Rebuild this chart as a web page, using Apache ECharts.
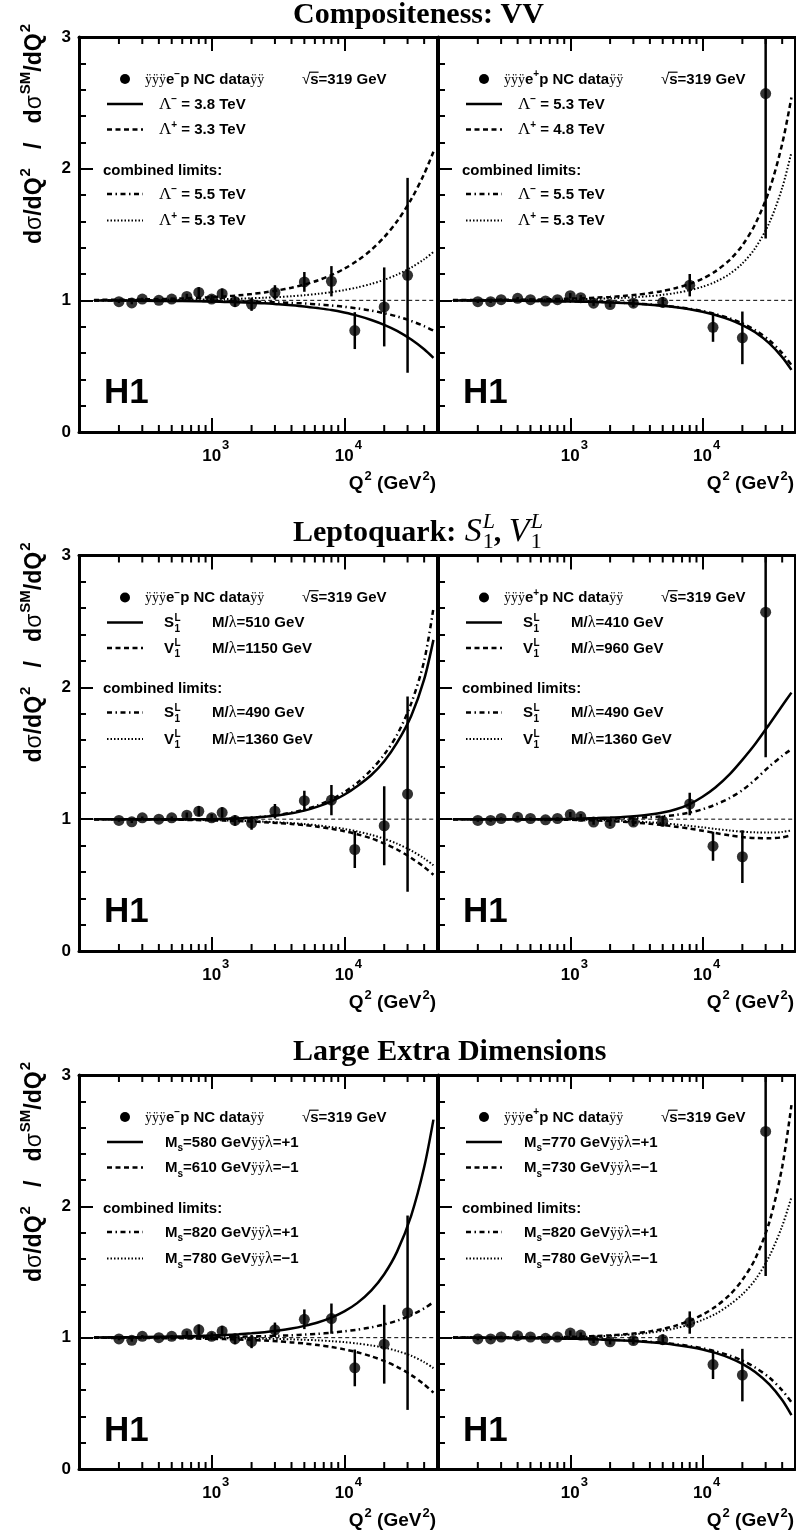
<!DOCTYPE html>
<html><head><meta charset="utf-8">
<script src="https://cdn.jsdelivr.net/npm/echarts@6/dist/echarts.min.js"></script>
<style>html,body{margin:0;padding:0;background:#fff}#c{width:796px;height:1536px}</style>
</head><body><div id="c"></div>
<script>
// ---------------- data ----------------
const Q2_DATA = [200,250,300,400,500,650,800,1000,1200,1500,2000,3000,5000,8000,12000,20000,30000];
const EM_RATIO = [0.99,0.98,1.01,1.00,1.01,1.03,1.06,1.01,1.05,0.99,0.97,1.06,1.14,1.145,0.77,0.95,1.19];
const EM_ERR   = [0.01,0.01,0.01,0.01,0.01,0.02,0.04,0.03,0.04,0.04,0.05,0.055,0.075,0.115,0.14,0.30,0.74];
const EP_RATIO = [0.99,0.99,1.005,1.015,1.005,0.995,1.005,1.035,1.02,0.978,0.968,0.978,0.985,1.115,0.795,0.715,2.57];
const EP_ERR   = [0.01,0.01,0.01,0.01,0.01,0.01,0.01,0.02,0.02,0.02,0.02,0.03,0.04,0.085,0.11,0.20,1.10];

const Q2_CURVE = [130,300,600,1000,1250,1600,2000,2500,3200,4000,5000,6300,8000,10000,12500,16000,20000,25000,32000,40000,47000];
// Compositeness VV
const VV_EM_SOLID   = [0.999,0.997,0.994,0.991,0.988,0.985,0.981,0.977,0.970,0.963,0.954,0.941,0.926,0.907,0.884,0.851,0.814,0.768,0.702,0.628,0.563];
const VV_EM_DASH    = [1.003,1.007,1.014,1.024,1.030,1.038,1.048,1.060,1.077,1.096,1.120,1.151,1.192,1.240,1.300,1.384,1.480,1.600,1.768,1.960,2.128];
const VV_EM_DASHDOT = [0.999,0.999,0.997,0.995,0.994,0.992,0.990,0.988,0.984,0.980,0.976,0.969,0.961,0.951,0.939,0.922,0.902,0.878,0.843,0.804,0.770];
const VV_EM_DOT     = [1.001,1.002,1.005,1.008,1.010,1.012,1.016,1.020,1.025,1.031,1.039,1.049,1.062,1.078,1.098,1.125,1.156,1.195,1.250,1.312,1.367];
const VV_EP_SOLID   = [0.999,0.998,0.995,0.992,0.990,0.987,0.984,0.980,0.974,0.967,0.958,0.947,0.932,0.913,0.889,0.854,0.812,0.757,0.673,0.569,0.472];
const VV_EP_DASH    = [1.002,1.004,1.007,1.013,1.016,1.021,1.026,1.033,1.043,1.055,1.071,1.094,1.125,1.165,1.220,1.306,1.418,1.578,1.838,2.188,2.541];
const VV_EP_DASHDOT = [0.999,0.998,0.995,0.992,0.991,0.988,0.985,0.981,0.975,0.969,0.961,0.950,0.936,0.919,0.896,0.864,0.825,0.773,0.696,0.599,0.508];
const VV_EP_DOT     = [1.001,1.002,1.004,1.007,1.009,1.012,1.015,1.019,1.025,1.032,1.042,1.056,1.077,1.103,1.140,1.200,1.280,1.396,1.589,1.854,2.125];
// Leptoquark
const LQ_EM_SOLID   = [1.0,1.0,1.0,1.0,1.002,1.005,1.010,1.018,1.030,1.045,1.065,1.095,1.135,1.185,1.250,1.335,1.440,1.580,1.785,2.060,2.360];
const LQ_EM_DASH    = [1.0,0.998,0.995,0.991,0.989,0.986,0.982,0.977,0.971,0.964,0.955,0.943,0.927,0.909,0.886,0.854,0.815,0.770,0.705,0.637,0.578];
const LQ_EM_DASHDOT = [1.0,1.0,1.0,1.0,1.002,1.006,1.011,1.020,1.033,1.050,1.072,1.105,1.150,1.205,1.275,1.375,1.490,1.640,1.880,2.200,2.600];
const LQ_EM_DOT     = [1.0,0.998,0.996,0.993,0.991,0.988,0.985,0.981,0.976,0.970,0.963,0.953,0.940,0.926,0.907,0.881,0.851,0.814,0.762,0.702,0.650];
const LQ_EP_SOLID   = [1.0,1.0,1.001,1.003,1.005,1.008,1.012,1.017,1.025,1.035,1.050,1.075,1.115,1.170,1.240,1.340,1.450,1.570,1.720,1.860,1.960];
const LQ_EP_DASH    = [1.0,0.999,0.997,0.995,0.993,0.990,0.986,0.980,0.973,0.965,0.955,0.943,0.928,0.912,0.895,0.877,0.864,0.857,0.855,0.862,0.878];
const LQ_EP_DASHDOT = [1.0,1.0,1.0,1.0,1.001,1.002,1.004,1.006,1.010,1.015,1.022,1.032,1.050,1.075,1.110,1.160,1.220,1.300,1.400,1.480,1.530];
const LQ_EP_DOT     = [1.0,0.999,0.998,0.997,0.996,0.994,0.991,0.987,0.982,0.976,0.969,0.960,0.949,0.938,0.926,0.914,0.905,0.900,0.898,0.903,0.915];
// Large extra dimensions
const LED_EM_SOLID   = [1.002,1.005,1.010,1.016,1.020,1.026,1.033,1.042,1.055,1.070,1.090,1.116,1.153,1.200,1.263,1.360,1.483,1.655,1.932,2.297,2.660];
const LED_EM_DASH    = [0.999,0.997,0.995,0.991,0.989,0.986,0.982,0.978,0.972,0.964,0.956,0.944,0.929,0.911,0.889,0.858,0.822,0.778,0.715,0.644,0.582];
const LED_EM_DASHDOT = [1.001,1.001,1.003,1.005,1.006,1.007,1.009,1.011,1.015,1.018,1.023,1.029,1.038,1.048,1.061,1.079,1.101,1.129,1.172,1.223,1.271];
const LED_EM_DOT     = [1.0,0.999,0.998,0.997,0.996,0.995,0.994,0.992,0.990,0.987,0.984,0.980,0.973,0.966,0.956,0.941,0.924,0.899,0.862,0.814,0.768];
const LED_EP_SOLID   = [0.999,0.998,0.995,0.992,0.990,0.987,0.983,0.979,0.973,0.966,0.957,0.945,0.929,0.910,0.884,0.846,0.800,0.738,0.644,0.525,0.410];
const LED_EP_DASH    = [1.001,1.002,1.004,1.006,1.009,1.013,1.018,1.025,1.035,1.048,1.066,1.092,1.130,1.175,1.235,1.325,1.440,1.600,1.880,2.300,2.770];
const LED_EP_DASHDOT = [0.999,0.998,0.996,0.992,0.991,0.988,0.985,0.981,0.975,0.969,0.961,0.950,0.936,0.919,0.896,0.864,0.825,0.773,0.696,0.599,0.508];
const LED_EP_DOT     = [1.001,1.002,1.003,1.005,1.007,1.010,1.014,1.020,1.028,1.038,1.052,1.072,1.100,1.135,1.180,1.250,1.330,1.440,1.620,1.850,2.070];

// axes / ticks
const X_MIN = 100, X_MAX = 50000;
const X_MINOR_TICKS = [200,300,400,500,600,700,800,900,2000,3000,4000,5000,6000,7000,8000,9000,20000,30000,40000];
const X_LABEL_TICKS = [1000, 10000];
const X_LABEL_EXP = ['3', '4'];
const REF_LINE_X = [128, 50000];

// legend texts
const TITLES = ['Compositeness: VV', 'Leptoquark: ', 'Large Extra Dimensions'];
const VV_EM_LABELS = [['−','3.8'],['+','3.3'],['−','5.5'],['+','5.3']];
const VV_EP_LABELS = [['−','5.3'],['+','4.8'],['−','5.5'],['+','5.3']];
const LQ_EM_LABELS = [['S','510'],['V','1150'],['S','490'],['V','1360']];
const LQ_EP_LABELS = [['S','410'],['V','960'],['S','490'],['V','1360']];
const LED_EM_LABELS = [['580','+1'],['610','−1'],['820','+1'],['780','−1']];
const LED_EP_LABELS = [['770','+1'],['730','−1'],['820','+1'],['780','−1']];

// ---------------- layout & styles ----------------
const SANS = 'Liberation Sans, Arial, Helvetica, sans-serif';
const SERIF = 'Liberation Serif, Times New Roman, serif';
const ROWS = [{top:37,h:395},{top:555.5,h:395.5},{top:1075,h:394}];
const COLS = [{left:79,w:358},{left:438,w:357}];
const LS = {
  solid:{type:'solid', width:2.5},
  dash:{type:[5,3.5], width:2.5},
  dashdot:{type:[5,3.5,1.5,3.5], width:2.5},
  dot:{type:[1.5,2], width:2}
};

const PANELS = [
  {row:0,col:0,kind:'VV',beam:'−',ratio:EM_RATIO,err:EM_ERR,curves:{solid:VV_EM_SOLID,dash:VV_EM_DASH,dashdot:VV_EM_DASHDOT,dot:VV_EM_DOT},labels:VV_EM_LABELS},
  {row:0,col:1,kind:'VV',beam:'+',ratio:EP_RATIO,err:EP_ERR,curves:{solid:VV_EP_SOLID,dash:VV_EP_DASH,dashdot:VV_EP_DASHDOT,dot:VV_EP_DOT},labels:VV_EP_LABELS},
  {row:1,col:0,kind:'LQ',beam:'−',ratio:EM_RATIO,err:EM_ERR,curves:{solid:LQ_EM_SOLID,dash:LQ_EM_DASH,dashdot:LQ_EM_DASHDOT,dot:LQ_EM_DOT},labels:LQ_EM_LABELS},
  {row:1,col:1,kind:'LQ',beam:'+',ratio:EP_RATIO,err:EP_ERR,curves:{solid:LQ_EP_SOLID,dash:LQ_EP_DASH,dashdot:LQ_EP_DASHDOT,dot:LQ_EP_DOT},labels:LQ_EP_LABELS},
  {row:2,col:0,kind:'LED',beam:'−',ratio:EM_RATIO,err:EM_ERR,curves:{solid:LED_EM_SOLID,dash:LED_EM_DASH,dashdot:LED_EM_DASHDOT,dot:LED_EM_DOT},labels:LED_EM_LABELS},
  {row:2,col:1,kind:'LED',beam:'+',ratio:EP_RATIO,err:EP_ERR,curves:{solid:LED_EP_SOLID,dash:LED_EP_DASH,dashdot:LED_EP_DASHDOT,dot:LED_EP_DOT},labels:LED_EP_LABELS}
];

// ---------------- text helper ----------------
const mctx = document.createElement('canvas').getContext('2d');
function tw(p){ mctx.font = (p.i?'italic ':'') + (p.w||'bold') + ' ' + p.s + 'px ' + (p.f||SANS); return mctx.measureText(p.t).width; }
function runs(parts, x, y, align){
  let total = 0; const ws = [];
  parts.forEach(p => { if(!p.s) p.s = 15; const w = tw(p); ws.push(w); total += (p.dx||0) + (p.stay?0:w); });
  let cx = align==='right' ? x-total : align==='center' ? x-total/2 : x;
  const out = [];
  parts.forEach((p,k) => {
    cx += (p.dx||0);
    const by = y - (p.dy||0);
    out.push({type:'text', silent:true, x:cx, y:by - 0.32*p.s, z:50,
      style:{text:p.t, fontSize:p.s, fontWeight:p.w||'bold', fontFamily:p.f||SANS, fontStyle:p.i?'italic':'normal',
             fill:'#000', align:'left', textAlign:'left', verticalAlign:'middle', textVerticalAlign:'middle'}});
    if (p.over) out.push({type:'line', silent:true, z:50, shape:{x1:cx-1,y1:by-0.82*p.s,x2:cx+ws[k],y2:by-0.82*p.s}, style:{stroke:'#000',lineWidth:1.2}});
    if (!p.stay) cx += ws[k];
  });
  return out;
}

// ---------------- build option ----------------
const grids = [], xAxes = [], yAxes = [], series = [];
PANELS.forEach((p, i) => {
  const r = ROWS[p.row], c = COLS[p.col];
  grids.push({left:c.left, top:r.top, width:c.w, height:r.h, show:true, borderColor:'#000', borderWidth:2, backgroundColor:'transparent'});
  const xa = (pos) => ({gridIndex:i, type:'log', logBase:10, min:X_MIN, max:X_MAX, position:pos,
    axisLine:{show:true, onZero:false, lineStyle:{color:'#000', width:3}},
    axisTick:{show:true, inside:true, length:14, lineStyle:{color:'#000', width:2}},
    axisLabel:{show:false}, splitLine:{show:false}, minorTick:{show:false}, minorSplitLine:{show:false}});
  xAxes.push(xa('bottom')); xAxes.push(xa('top'));
  yAxes.push({gridIndex:i, type:'value', min:0, max:3, interval:1, position:'left',
    axisLine:{show:true, onZero:false, lineStyle:{color:'#000', width:3}},
    axisTick:{show:true, inside:true, length:14, lineStyle:{color:'#000', width:2}},
    minorTick:{show:true, splitNumber:5, length:7, lineStyle:{color:'#000', width:2}},
    axisLabel:{show:p.col===0, color:'#000', fontSize:17, fontWeight:'bold', fontFamily:SANS, margin:8},
    splitLine:{show:false}, minorSplitLine:{show:false}});
  const xi = 2*i, yi = i;
  series.push({type:'custom', xAxisIndex:xi, yAxisIndex:yi, silent:true, clip:false, z:5,
    data: X_MINOR_TICKS.map(v => [v, 0]),
    renderItem: (params, api) => {
      const b = api.coord([api.value(0), 0]); const t = api.coord([api.value(0), 3]);
      return {type:'group', children:[
        {type:'line', shape:{x1:b[0],y1:b[1],x2:b[0],y2:b[1]-7}, style:{stroke:'#000', lineWidth:2}},
        {type:'line', shape:{x1:t[0],y1:t[1],x2:t[0],y2:t[1]+7}, style:{stroke:'#000', lineWidth:2}}]};
    }});
  series.push({type:'line', xAxisIndex:xi, yAxisIndex:yi, silent:true, symbol:'none', z:3,
    data: REF_LINE_X.map(x => [x, 1]), lineStyle:{color:'#000', width:1, type:[4,3]}});
  ['solid','dash','dashdot','dot'].forEach(k => {
    series.push({type:'line', xAxisIndex:xi, yAxisIndex:yi, silent:true, symbol:'none', z:4,
      smooth:0.3, clip:true,
      data: Q2_CURVE.map((q, j) => [q, p.curves[k][j]]),
      lineStyle:{color:'#000', width:LS[k].width, type:LS[k].type}});
  });
  series.push({type:'custom', xAxisIndex:xi, yAxisIndex:yi, silent:true, clip:true, z:6,
    data: Q2_DATA.map((q, j) => [q, p.ratio[j], p.err[j]]),
    renderItem: (params, api) => {
      const x = api.value(0), y = api.value(1), e = api.value(2);
      const a = api.coord([x, y-e]), b = api.coord([x, y+e]);
      return {type:'line', shape:{x1:a[0],y1:a[1],x2:b[0],y2:b[1]}, style:{stroke:'#000', lineWidth:2.5}};
    }});
  series.push({type:'scatter', xAxisIndex:xi, yAxisIndex:yi, silent:true, symbol:'circle', symbolSize:11, z:7,
    itemStyle:{color:'#000'}, data: Q2_DATA.map((q, j) => [q, p.ratio[j]])});
});

const chart = echarts.init(document.getElementById('c'), null, {renderer:'canvas'});
chart.setOption({animation:false, backgroundColor:'#fff', grid:grids, xAxis:xAxes, yAxis:yAxes, series:series});

// ---------------- graphics (text) ----------------
const G = [];
ROWS.forEach((r, ri) => {
  const base = ri === 0 ? 25 : r.top - 13;
  if (ri === 1) {
    G.push(...runs([
      {t:'Leptoquark: ', f:SERIF, s:30},
      {t:'S', f:SERIF, s:34, w:'normal', i:true, dx:1},
      {t:'L', f:SERIF, s:22, w:'normal', i:true, dy:13, stay:true, dx:1},
      {t:'1', f:SERIF, s:22, w:'normal', dy:-7},
      {t:', ', f:SERIF, s:30},
      {t:'V', f:SERIF, s:34, w:'normal', i:true},
      {t:'L', f:SERIF, s:22, w:'normal', i:true, dy:13, stay:true, dx:1},
      {t:'1', f:SERIF, s:22, w:'normal', dy:-7}
    ], 293, base, 'left'));
  } else {
    G.push(...runs([{t:TITLES[ri], f:SERIF, s:30}], 293, base, 'left'));
  }
});

PANELS.forEach((p, i) => {
  const r = ROWS[p.row], c = COLS[p.col];
  const L = c.left, T = r.top, B = r.top + r.h, R = c.left + c.w;
  G.push(...runs([{t:'H1', s:35}], L+25, T+368, 'left'));
  X_LABEL_TICKS.forEach((v, k) => {
    const px = chart.convertToPixel({xAxisIndex:2*i}, v);
    const w10 = tw({t:'10', s:17});
    G.push(...runs([{t:'10', s:17}, {t:X_LABEL_EXP[k], s:13, dy:12, dx:1}], px - w10/2, B+30, 'left'));
  });
  G.push(...runs([{t:'Q', s:19}, {t:'2', s:13, dy:9, dx:1}, {t:' (GeV', s:19}, {t:'2', s:13, dy:9, dx:1}, {t:')', s:19}], R-1, B+58, 'right'));
  if (p.col === 0) {
    G.push({type:'group', x:42, y:T+97, rotation:Math.PI/2, children: runs([
      {t:'d', s:23}, {t:'σ', s:23, w:'normal'}, {t:'/dQ', s:23}, {t:'2', s:15, dy:11, dx:1},
      {t:'   /   ', s:23}, {t:'d', s:23}, {t:'σ', s:23, w:'normal'}, {t:'SM', s:15, dy:11, dx:1}, {t:'/dQ', s:23}, {t:'2', s:15, dy:11, dx:1}
    ], 0, 0, 'center')});
  }
  const rowsY = [42, 67, 92.5, 133, 157, 183.5].map(v => T + v);
  const bl = (yc) => yc + 5.5;
  G.push({type:'circle', silent:true, z:50, shape:{cx:L+46, cy:rowsY[0], r:5}, style:{fill:'#000'}});
  G.push(...runs([
    {t:'ÿÿÿ', f:SERIF, w:'normal', s:14}, {t:'e', s:15}, {t:p.beam, s:10, dy:7}, {t:'p NC data', s:15}, {t:'ÿÿ', f:SERIF, w:'normal', s:14}
  ], L+66, bl(rowsY[0]), 'left'));
  G.push(...runs([{t:'√', w:'normal', s:15}, {t:'s', s:15, over:true}, {t:'=319 GeV', s:15}], L+223, bl(rowsY[0]), 'left'));
  G.push(...runs([{t:'combined limits:', s:15}], L+24, bl(rowsY[3]), 'left'));
  const keys = ['solid','dash','dashdot','dot'];
  const ly = [rowsY[1], rowsY[2], rowsY[4], rowsY[5]];
  keys.forEach((k, j) => {
    const y = ly[j];
    G.push({type:'line', silent:true, z:50, shape:{x1:L+28, y1:y, x2:L+64, y2:y},
      style:{stroke:'#000', lineWidth:LS[k].width, lineDash: LS[k].type==='solid'?null:LS[k].type}});
    const lab = p.labels[j];
    if (p.kind === 'VV') {
      G.push(...runs([{t:'Λ', f:SERIF, w:'normal', s:17}, {t:lab[0], s:10, dy:7}, {t:' = '+lab[1]+' TeV', s:15}], L+80, bl(y), 'left'));
    } else if (p.kind === 'LQ') {
      G.push(...runs([{t:lab[0], s:15}, {t:'L', s:10, dy:7, stay:true, dx:0.5}, {t:'1', s:10, dy:-4}], L+85, bl(y), 'left'));
      G.push(...runs([{t:'M/', s:15}, {t:'λ', f:SERIF, w:'normal', s:16}, {t:'='+lab[1]+' GeV', s:15}], L+133, bl(y), 'left'));
    } else {
      G.push(...runs([{t:'M', s:15}, {t:'s', s:10, dy:-4}, {t:'='+lab[0]+' GeV', s:15}, {t:'ÿÿ', f:SERIF, w:'normal', s:14},
        {t:'λ', f:SERIF, w:'normal', s:16}, {t:'='+lab[1], s:15}], L+86, bl(y), 'left'));
    }
  });
});
chart.setOption({graphic:{elements:G}});
</script>
</body></html>
